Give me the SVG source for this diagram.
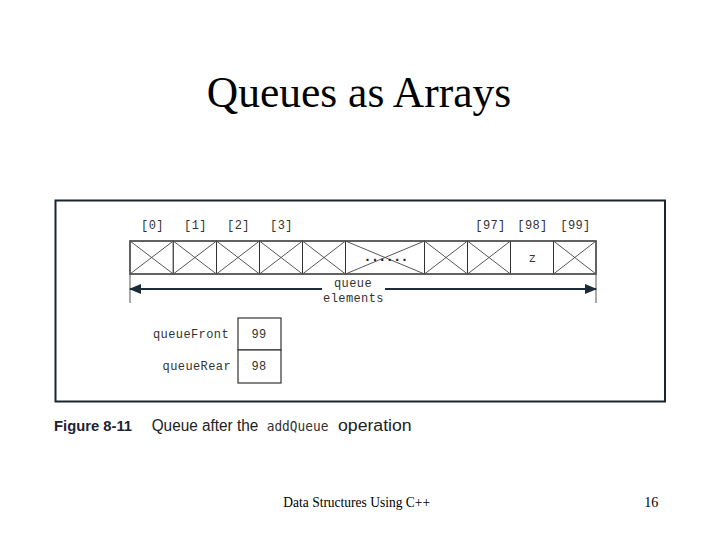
<svg xmlns="http://www.w3.org/2000/svg" width="720" height="540" viewBox="0 0 720 540">
<style>
.title{font-family:"Liberation Serif","Times New Roman",serif;font-size:43.5px;fill:#000}
.foot{font-family:"Liberation Serif","Times New Roman",serif;font-size:14px;fill:#000}
.mono{font-family:"Liberation Mono","Courier New",monospace;font-size:12px;fill:#333;letter-spacing:0.4px}
.cell{fill:#fff;stroke:#333;stroke-width:1}
.x{stroke:#444;stroke-width:0.9;fill:none}
.row{fill:none;stroke:#555;stroke-width:1.6}
.box{fill:#fff;stroke:#333;stroke-width:1.2}
.arrow{stroke:#1c2a3a;stroke-width:2;fill:none}
.tick{stroke:#555;stroke-width:1}
.cap{font-family:"Liberation Sans",Arial,sans-serif;font-size:16px;fill:#222}
.capb{font-family:"Liberation Sans",Arial,sans-serif;font-size:15.5px;font-weight:bold;fill:#1e2235}
.capm{font-family:"DejaVu Sans Mono",monospace;font-size:14px;fill:#333}
</style>
<defs>
<marker id="ah" viewBox="0 0 12 10" refX="11" refY="5" markerWidth="12" markerHeight="10" markerUnits="userSpaceOnUse" orient="auto">
<path d="M0,0 L12,5 L0,10 Z" fill="#1c2a3a"/>
</marker>
</defs>
<rect width="720" height="540" fill="#fff"/>
<text class="title" x="359" y="107" text-anchor="middle">Queues as Arrays</text>

<rect id="frame" x="55.5" y="200.5" width="609.5" height="201" fill="#fff" stroke="#1a2530" stroke-width="2"/>

<g id="labels">
<text class="mono" x="152.5" y="229" text-anchor="middle">[0]</text>
<text class="mono" x="195.5" y="229" text-anchor="middle">[1]</text>
<text class="mono" x="238.5" y="229" text-anchor="middle">[2]</text>
<text class="mono" x="281.5" y="229" text-anchor="middle">[3]</text>
<text class="mono" x="490.5" y="229" text-anchor="middle">[97]</text>
<text class="mono" x="532.5" y="229" text-anchor="middle">[98]</text>
<text class="mono" x="575.5" y="229" text-anchor="middle">[99]</text>
</g>

<g id="array">
<g id="cell0"><rect class="cell" x="130" y="241" width="43.3" height="33"/><path class="x" d="M130,241 L173.3,274 M130,274 L173.3,241"/></g>
<g id="cell1"><rect class="cell" x="173.3" y="241" width="43.2" height="33"/><path class="x" d="M173.3,241 L216.5,274 M173.3,274 L216.5,241"/></g>
<g id="cell2"><rect class="cell" x="216.5" y="241" width="43" height="33"/><path class="x" d="M216.5,241 L259.5,274 M216.5,274 L259.5,241"/></g>
<g id="cell3"><rect class="cell" x="259.5" y="241" width="43" height="33"/><path class="x" d="M259.5,241 L302.5,274 M259.5,274 L302.5,241"/></g>
<g id="cell4"><rect class="cell" x="302.5" y="241" width="43" height="33"/><path class="x" d="M302.5,241 L345.5,274 M302.5,274 L345.5,241"/></g>
<g id="cellDots"><rect class="cell" x="345.5" y="241" width="79" height="33"/><path class="x" d="M345.5,241 L424.5,274 M345.5,274 L424.5,241"/>
<text x="385.5" y="261" text-anchor="middle" font-family="Liberation Mono,monospace" font-size="14" font-weight="bold" fill="#222" letter-spacing="-1">......</text></g>
<g id="cell97"><rect class="cell" x="424.5" y="241" width="43" height="33"/><path class="x" d="M424.5,241 L467.5,274 M424.5,274 L467.5,241"/></g>
<g id="cell97b"><rect class="cell" x="467.5" y="241" width="43" height="33"/><path class="x" d="M467.5,241 L510.5,274 M467.5,274 L510.5,241"/></g>
<g id="cell98"><rect class="cell" x="510.5" y="241" width="43" height="33"/><text class="mono" x="532.5" y="262" text-anchor="middle">z</text></g>
<g id="cell99"><rect class="cell" x="553.5" y="241" width="42.5" height="33"/><path class="x" d="M553.5,241 L596,274 M553.5,274 L596,241"/></g>
<rect class="row" x="130" y="241" width="466" height="33"/>
</g>

<g id="connectors">
<line class="tick" x1="130" y1="274" x2="130" y2="303"/>
<line class="tick" x1="596" y1="274" x2="596" y2="303"/>
<path class="arrow" d="M322,289 L130,289" marker-end="url(#ah)"/>
<path class="arrow" d="M385,289 L596,289" marker-end="url(#ah)"/>
</g>
<g id="span-label">
<text class="mono" x="353" y="287" text-anchor="middle">queue</text>
<text class="mono" x="353.5" y="301.5" text-anchor="middle">elements</text>
</g>

<g id="queueFront">
<text class="mono" x="229" y="338" text-anchor="end">queueFront</text>
<rect class="box" x="238" y="318" width="43" height="32"/>
<text class="mono" x="259" y="338" text-anchor="middle">99</text>
</g>
<g id="queueRear">
<text class="mono" x="231" y="370" text-anchor="end">queueRear</text>
<rect class="box" x="238" y="350" width="43" height="33"/>
<text class="mono" x="259" y="370" text-anchor="middle">98</text>
</g>

<g id="caption">
<text class="capb" x="54" y="431" textLength="78" lengthAdjust="spacingAndGlyphs">Figure 8-11</text>
<text class="cap" x="151.7" y="431" textLength="106.6" lengthAdjust="spacingAndGlyphs">Queue after the</text>
<text class="capm" x="266.7" y="431" textLength="61.7" lengthAdjust="spacingAndGlyphs">addQueue</text>
<text class="cap" x="338" y="431" textLength="73.7" lengthAdjust="spacingAndGlyphs">operation</text>
</g>

<text class="foot" x="283.3" y="507" textLength="146.7" lengthAdjust="spacingAndGlyphs">Data Structures Using C++</text>
<text class="foot" x="658.3" y="507" text-anchor="end">16</text>
</svg>
